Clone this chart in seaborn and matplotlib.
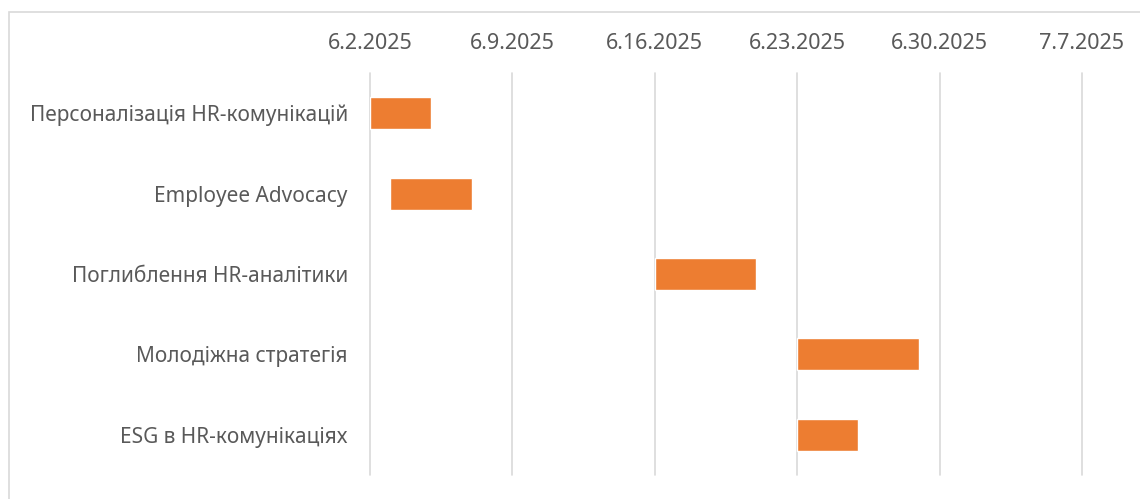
import datetime as dt

import matplotlib
matplotlib.use("Agg")
import matplotlib.pyplot as plt
import matplotlib.dates as mdates
from matplotlib.patches import Rectangle
from matplotlib.ticker import FuncFormatter, FixedLocator
import pandas as pd
import seaborn as sns

# Project schedule
tasks = [
    "Персоналізація HR-комунікацій",
    "Employee Advocacy",
    "Поглиблення HR-аналітики",
    "Молодіжна стратегія",
    "ESG в HR-комунікаціях",
]
start_dates = ["2025-06-02", "2025-06-03", "2025-06-16", "2025-06-23", "2025-06-23"]
durations_days = [3, 4, 5, 6, 3]
tick_dates = ["2025-06-02", "2025-06-09", "2025-06-16", "2025-06-23", "2025-06-30", "2025-07-07"]

sns.set_theme(style="white")
plt.rcParams["font.family"] = ["Noto Sans", "DejaVu Sans"]

df = pd.DataFrame({
    "task": tasks,
    "start": [mdates.date2num(dt.date.fromisoformat(s)) for s in start_dates],
    "duration": durations_days,
})

W, H = 1140, 499
fig = plt.figure(figsize=(W / 100, H / 100), dpi=100)

# light frame around the chart area
fig.patches.append(Rectangle((9 / W, -0.5), 2.0, 1 - 12 / H + 0.5,
                             transform=fig.transFigure, fill=False,
                             edgecolor="#d9d9d9", linewidth=1.2, zorder=0))

ax = fig.add_axes([370 / W, 1 - 475 / H, 1 - 370 / W, (475 - 73) / H])

sns.barplot(data=df, x="duration", y="task", order=tasks, orient="y",
            left=df["start"].values, color="#ED7D31", saturation=1,
            width=0.4, errorbar=None, ax=ax, zorder=3)

x0 = mdates.date2num(dt.date(2025, 6, 2))
ax.set_xlim(x0, x0 + (W - 370) / 20.34)

ticks = [mdates.date2num(dt.date.fromisoformat(s)) for s in tick_dates]
ax.xaxis.set_major_locator(FixedLocator(ticks))
ax.xaxis.set_major_formatter(FuncFormatter(
    lambda v, _: (lambda d: f"{d.month}.{d.day}.{d.year}")(mdates.num2date(v))))
ax.xaxis.tick_top()
ax.grid(axis="x", color="#d9d9d9", linewidth=1.2, zorder=0)
ax.grid(axis="y", visible=False)
ax.set_axisbelow(True)
for gl in ax.get_xgridlines():
    gl.set_clip_on(False)

for s in ["top", "right", "bottom", "left"]:
    ax.spines[s].set_visible(False)

ax.tick_params(axis="x", length=0, pad=13.5, labelsize=15.5, labelcolor="#595959")
ax.tick_params(axis="y", length=0, pad=16, labelsize=15, labelcolor="#595959")
ax.set_xlabel("")
ax.set_ylabel("")

fig.savefig("out.png", dpi=100)
